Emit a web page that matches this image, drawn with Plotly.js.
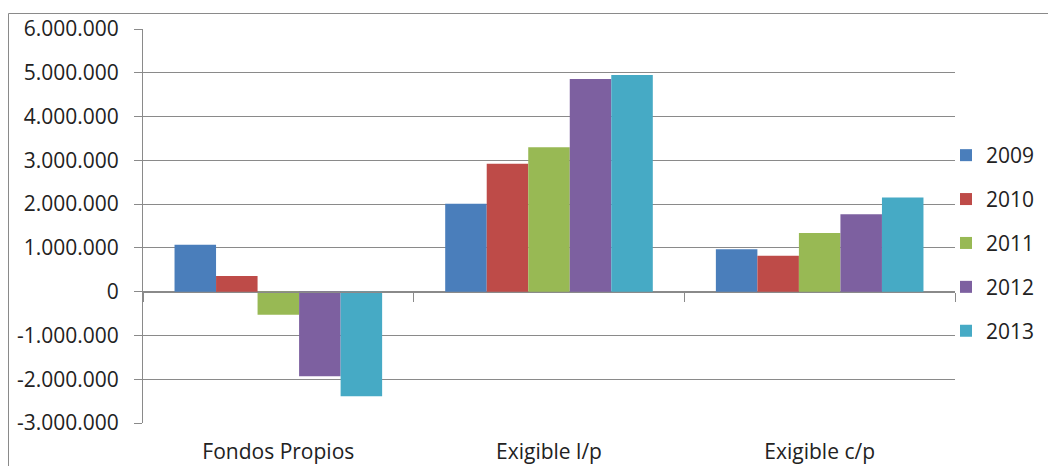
<!DOCTYPE html>
<html>
<head>
<meta charset="utf-8">
<script src="https://cdn.plot.ly/plotly-3.0.1.min.js"></script>
<style>
html,body{margin:0;padding:0;background:#fff;}
#chart{width:1048px;height:466px;}
</style>
</head>
<body>
<div id="chart"></div>
<script>
var categories = ["Fondos Propios", "Exigible l/p", "Exigible c/p"];
var years = ["2009", "2010", "2011", "2012", "2013"];
var v2009 = [1070000, 2010000, 970000];
var v2010 = [360000, 2920000, 820000];
var v2011 = [-530000, 3300000, 1340000];
var v2012 = [-1930000, 4860000, 1770000];
var v2013 = [-2390000, 4950000, 2150000];
var colors = ["#4A7EBB", "#BE4B48", "#98B954", "#7D60A0", "#46AAC5"];
var tickVals = [-3000000, -2000000, -1000000, 0, 1000000, 2000000, 3000000, 4000000, 5000000, 6000000];
var tickText = ["-3.000.000", "-2.000.000", "-1.000.000", "0", "1.000.000", "2.000.000", "3.000.000", "4.000.000", "5.000.000", "6.000.000"];

var series = [v2009, v2010, v2011, v2012, v2013];
var W = 1048, H = 466;
var mL = 143, mR = 93, mT = 29, mB = 43;
var pw = W - mL - mR, ph = H - mT - mB;
var grid = "#8a8a8a";
var font = "'Open Sans', sans-serif";

var traces = series.map(function (vals, i) {
  return {
    type: "bar",
    name: years[i],
    x: categories,
    y: vals,
    marker: { color: colors[i], line: { width: 0 } },
    legendgroup: "g" + i,
    hoverinfo: "y"
  };
});
// helper trace so the zero-crossing category axis is drawn
traces.push({
  type: "scatter", mode: "markers", x: categories, y: [0, 0, 0],
  xaxis: "x2", marker: { opacity: 0 }, showlegend: false, hoverinfo: "skip"
});

function px2x(p) { return (p - mL) / pw; }
function px2y(p) { return (H - mB - p) / ph; }

var layout = {
  width: W, height: H,
  margin: { l: mL, r: mR, t: mT, b: mB, pad: 0, autoexpand: false },
  paper_bgcolor: "#fff", plot_bgcolor: "#fff",
  barmode: "group", bargap: 0.233, bargroupgap: 0,
  showlegend: true,
  legend: {
    x: px2x(946), xanchor: "left", y: px2y(135), yanchor: "top",
    font: { family: font, size: 21, color: "#222" },
    tracegroupgap: 13.6, bgcolor: "rgba(0,0,0,0)"
  },
  xaxis: {
    type: "category", categoryarray: categories, range: [-0.5, 2.5],
    showline: false, showgrid: false, zeroline: false, ticks: "",
    tickfont: { family: font, size: 21, color: "#222" },
    ticklabelstandoff: 14, fixedrange: true, automargin: false
  },
  xaxis2: {
    type: "category", categoryarray: categories, range: [-0.5, 2.5],
    overlaying: "x", anchor: "free", position: 1 / 3, side: "bottom",
    showline: true, linecolor: grid, linewidth: 1,
    ticks: "outside", tickson: "boundaries", ticklen: 9, tickcolor: grid, tickwidth: 1,
    showticklabels: false, showgrid: false, zeroline: false, fixedrange: true
  },
  yaxis: {
    range: [-3000000, 6000000], tickvals: tickVals, ticktext: tickText,
    showline: true, linecolor: grid, linewidth: 1,
    ticks: "outside", ticklen: 8, tickcolor: grid, tickwidth: 1,
    showgrid: true, gridcolor: grid, gridwidth: 1, zeroline: false,
    tickfont: { family: font, size: 21, color: "#222" },
    ticklabelstandoff: 11, fixedrange: true, automargin: false
  },
  shapes: [{
    type: "rect", xref: "paper", yref: "paper",
    x0: px2x(8.5), x1: px2x(1060), y0: px2y(13.5), y1: px2y(480),
    line: { color: "#8a8a8a", width: 1 }, fillcolor: "rgba(0,0,0,0)", layer: "below"
  }]
};

Plotly.newPlot("chart", traces, layout, { displayModeBar: false, staticPlot: true });
</script>
</body>
</html>
